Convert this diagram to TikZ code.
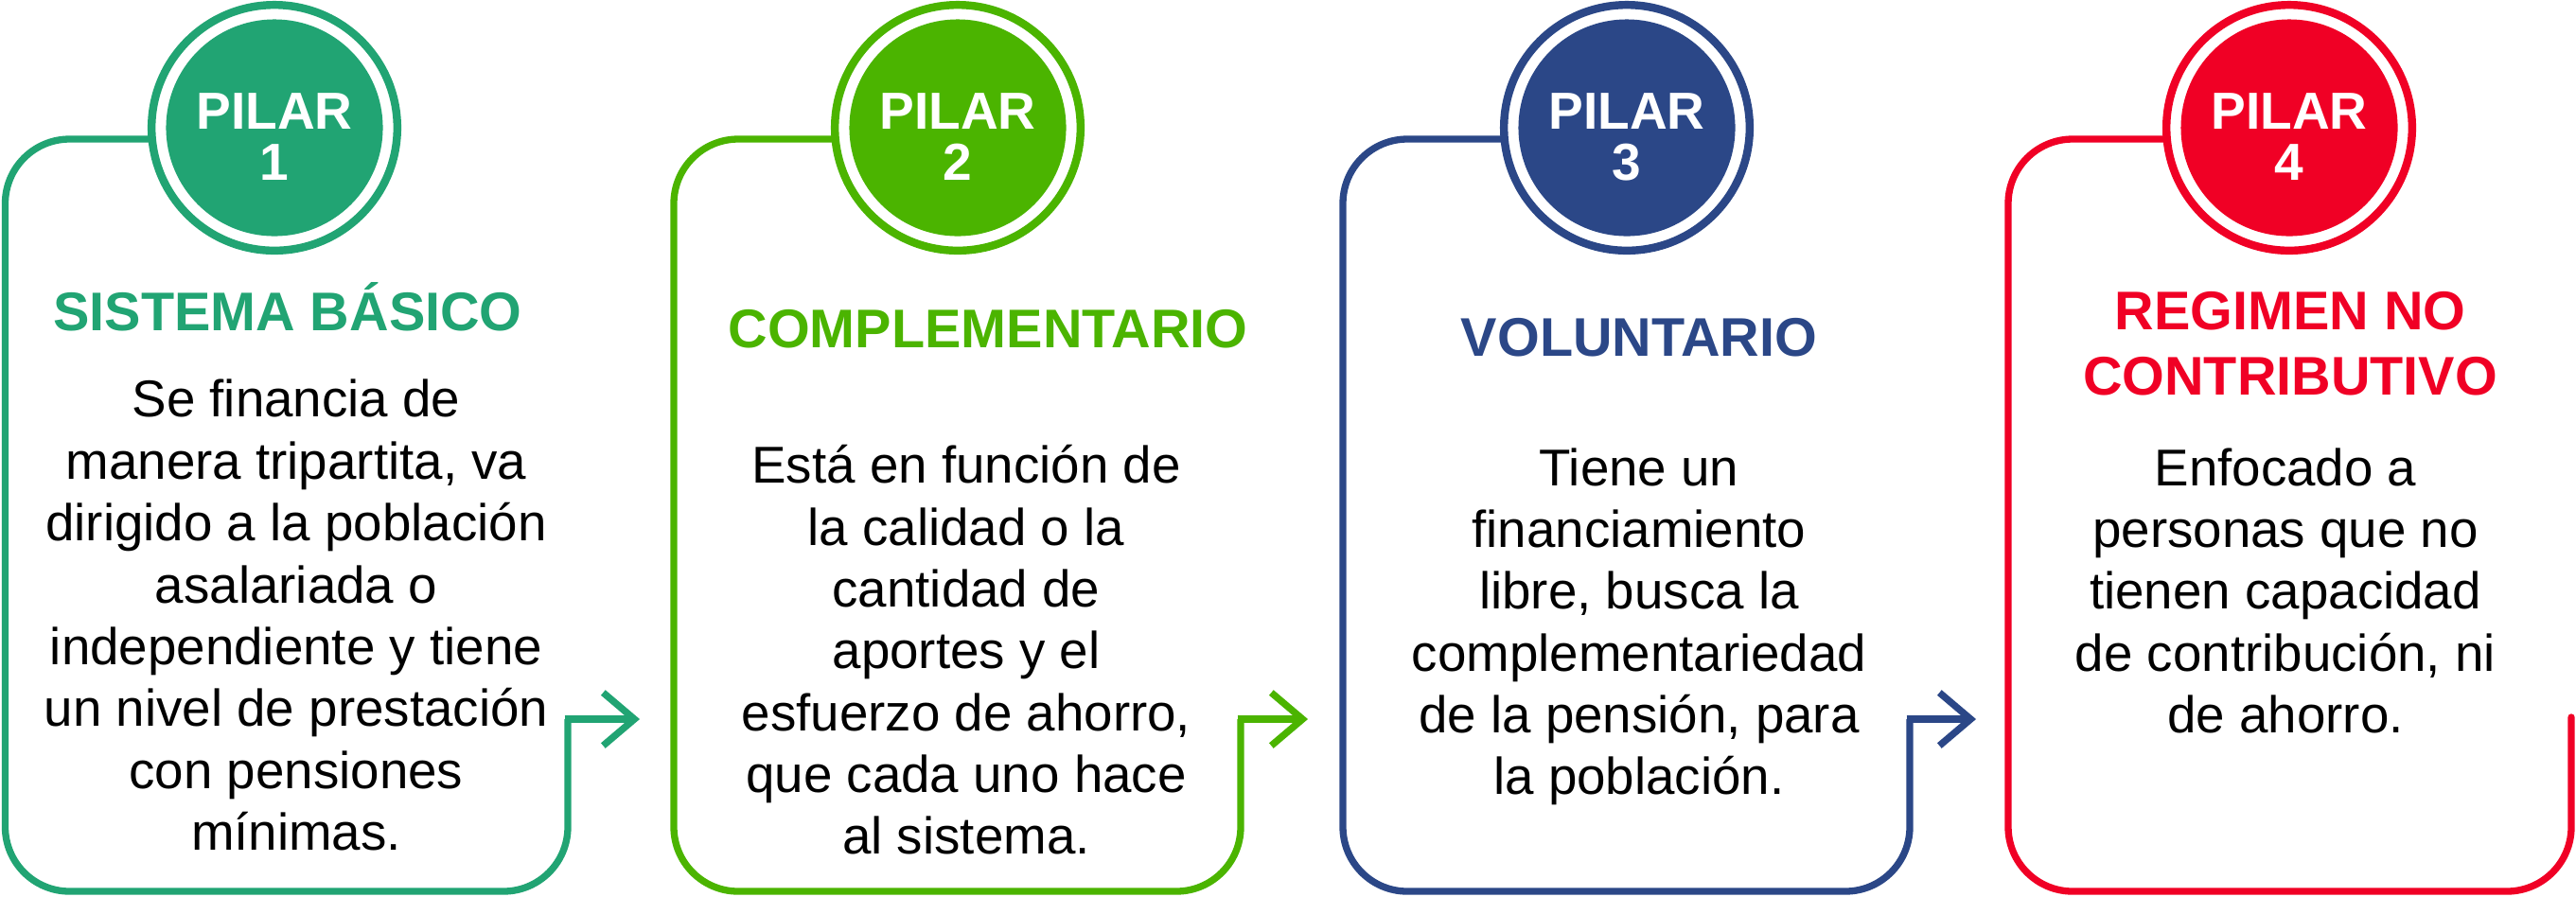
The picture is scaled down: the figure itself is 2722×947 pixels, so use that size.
\documentclass[tikz,border=0pt]{standalone}
\usepackage{fontspec}
\setmainfont{Liberation Sans}
\usetikzlibrary{arrows.meta}
\definecolor{pilarA}{HTML}{21A473}
\definecolor{pilarB}{HTML}{4BB400}
\definecolor{pilarC}{HTML}{2B4787}
\definecolor{pilarD}{HTML}{F00025}

\begin{document}
\begin{tikzpicture}[x=0.01cm,y=-0.01cm,
   frame/.style={line width=2.08pt,rounded corners=0.68cm},
   link/.style={line width=2.08pt,-{Straight Barb[length=0.33cm,width=0.56cm]}},
   ring/.style={circle,draw=#1,line width=2.4pt,fill=white,minimum size=2.595cm,inner sep=0pt},
   disc/.style={circle,fill=#1,minimum size=2.29cm,inner sep=0pt},
   pilar/.style={anchor=north,inner sep=0pt,align=center,text=white,
                 font=\bfseries\fontsize{15.65}{15.36}\selectfont},
   head/.style={inner sep=0pt,align=center,font=\bfseries\fontsize{16.36}{19.63}\selectfont},
   body/.style={anchor=north,inner sep=0pt,align=center,font=\fontsize{15.56}{18.58}\selectfont}]
  \useasboundingbox (0,0) rectangle (2722,947);
  % pilar 1
  \draw[frame,pilarA] (290,147) -- (5.5,147) -- (5.5,942) -- (600,942) -- (600,760);
  \coordinate (out1) at (596.5,760); \coordinate (tip1) at (676,760);
  \draw[link,pilarA] (out1) -- (tip1);
  \node[ring=pilarA] (ring1) at (290,135) {};
  \node[disc=pilarA] (disc1) at (ring1) {};
  \node[pilar] (num1) at (290,97.6) {PILAR\\1};
  \node[head,anchor=base,pilarA] (head1) at (304,349) {SISTEMA BÁSICO};
  \node[body] (body1) at (313,400.6) {Se financia de\\manera tripartita, va\\dirigido a la población\\asalariada o\\independiente y tiene\\un nivel de prestación\\con pensiones\\mínimas.};
  % pilar 2
  \draw[frame,pilarB] (1012,147) -- (712,147) -- (712,942) -- (1311,942) -- (1311,760);
  \coordinate (out2) at (1307.5,760); \coordinate (tip2) at (1382,760);
  \draw[link,pilarB] (out2) -- (tip2);
  \node[ring=pilarB] (ring2) at (1012,135) {};
  \node[disc=pilarB] (disc2) at (ring2) {};
  \node[pilar] (num2) at (1012,97.6) {PILAR\\2};
  \node[head,anchor=base,pilarB] (head2) at (1044,367) {COMPLEMENTARIO};
  \node[body] (body2) at (1021,469.8) {Está en función de\\la calidad o la\\cantidad de\\aportes y el\\esfuerzo de ahorro,\\que cada uno hace\\al sistema.};
  % pilar 3
  \draw[frame,pilarC] (1719,147) -- (1419,147) -- (1419,942) -- (2018,942) -- (2018,760);
  \coordinate (out3) at (2014.5,760); \coordinate (tip3) at (2088,760);
  \draw[link,pilarC] (out3) -- (tip3);
  \node[ring=pilarC] (ring3) at (1719,135) {};
  \node[disc=pilarC] (disc3) at (ring3) {};
  \node[pilar] (num3) at (1719,97.6) {PILAR\\3};
  \node[head,anchor=base,pilarC] (head3) at (1732,376) {VOLUNTARIO};
  \node[body] (body3) at (1732,472.8) {Tiene un\\financiamiento\\libre, busca la\\complementariedad\\de la pensión, para\\la población.};
  % pilar 4
  \draw[frame,pilarD,line cap=round] (2419,147) -- (2122,147) -- (2122,942) -- (2717,942) -- (2717,758);
  \node[ring=pilarD] (ring4) at (2419,135) {};
  \node[disc=pilarD] (disc4) at (ring4) {};
  \node[pilar] (num4) at (2419,97.6) {PILAR\\4};
  \node[head,anchor=north,pilarD] (head4) at (2420,307.8) {REGIMEN NO\\CONTRIBUTIVO};
  \node[body] (body4) at (2415,472.8) {Enfocado a\\personas que no\\tienen capacidad\\de contribución, ni\\de ahorro.};
\end{tikzpicture}
\end{document}
